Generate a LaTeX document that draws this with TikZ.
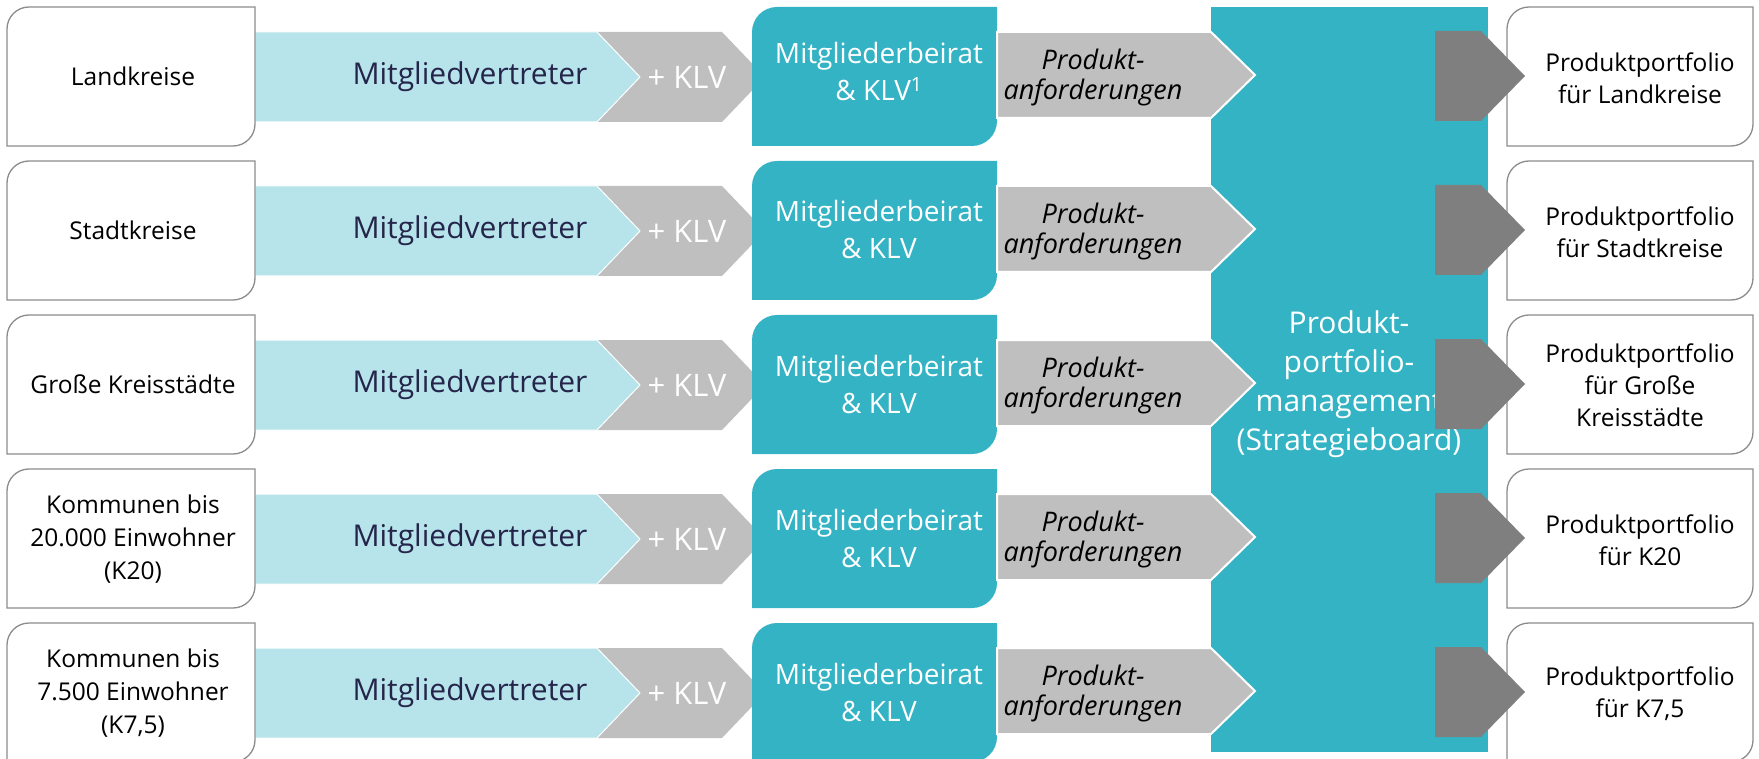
\documentclass[tikz,border=0pt]{standalone}
\usepackage{fontspec}
\setmainfont{Open Sans}
\definecolor{lcyan}{HTML}{B6E4EA}
\definecolor{teal1}{HTML}{34B3C4}
\definecolor{lgray}{HTML}{BFBFBF}
\definecolor{dgray}{HTML}{7F7F7F}
\definecolor{bgray}{HTML}{8C8C8C}
\definecolor{navy}{HTML}{25244A}
\tikzset{
  outbox/.style={draw=bgray, line width=1.3pt, fill=white},
  band/.style={fill=lcyan, draw=white, line width=1pt},
  chev/.style={fill=lgray},
  beirat/.style={fill=teal1},
  bigrect/.style={fill=teal1},
  reqarrow/.style={fill=lgray, draw=white, line width=2pt, line join=miter},
  outarrow/.style={fill=dgray},
  lefttext/.style={align=center, font=\fontsize{24.5}{33}\selectfont, text=black},
  mvtext/.style={font=\fontsize{30}{36}\selectfont, text=navy},
  klvtext/.style={font=\fontsize{31}{36}\selectfont, text=white},
  beirattext/.style={align=center, font=\fontsize{28}{37}\selectfont, text=white},
  reqtext/.style={align=center, font=\fontsize{27}{30}\selectfont\itshape, text=black},
  centertext/.style={align=center, font=\fontsize{30}{39}\selectfont, text=white},
  righttext/.style={align=center, font=\fontsize{24.5}{32}\selectfont, text=black},
}
% box with rounded top-left and bottom-right corners: style, x1, top, x2, bottom, radius
\newcommand{\dcbox}[6]{%
  \path[#1] (#2,#5) -- (#2,#3+#6) .. controls (#2,#3+0.4477*#6) and (#2+0.4477*#6,#3) .. (#2+#6,#3)
    -- (#4,#3) -- (#4,#5-#6) .. controls (#4,#5-0.4477*#6) and (#4-0.4477*#6,#5) .. (#4-#6,#5) -- cycle;}
\begin{document}
\begin{tikzpicture}[x=1pt,y=-1pt]
\useasboundingbox (0,0) rectangle (1759,759);
\clip (0,0) rectangle (1759,759);
% left part of each row
\foreach \i in {0,...,4}{
  \pgfmathsetmacro{\t}{7+154*\i}
  \pgfmathsetmacro{\b}{146+154*\i}
  \pgfmathsetmacro{\c}{76+154*\i}
  \pgfmathsetmacro{\bt}{\c+1-45}
  \pgfmathsetmacro{\bb}{\c+1+45}
  \pgfmathsetmacro{\bm}{\c+1}
  \path[chev] (560,\bt) -- (722,\bt) -- (765,\bm) -- (722,\bb) -- (560,\bb) -- cycle;
  \path[band] (255,\bt) -- (597,\bt) -- (640,\bm) -- (597,\bb) -- (255,\bb) -- cycle;
  \dcbox{outbox}{7}{\t}{255}{\b}{22}
  \dcbox{beirat}{752}{\t}{997}{\b}{25}
}
% central board
\path[bigrect] (1211,7) rectangle (1488,752);
\node[centertext] (ppm) at (1349,384) {Produkt-\\portfolio-\\management\\(Strategieboard)};
% requirement arrows and output arrows
\foreach \i in {0,...,4}{
  \pgfmathsetmacro{\c}{76+154*\i}
  \pgfmathsetmacro{\rt}{\c-1-43}
  \pgfmathsetmacro{\rb}{\c-1+43}
  \pgfmathsetmacro{\rm}{\c-1}
  \path[reqarrow] (997,\rt) -- (1211,\rt) -- (1255,\rm) -- (1211,\rb) -- (997,\rb) -- cycle;
  \pgfmathsetmacro{\t}{7+154*\i}
  \pgfmathsetmacro{\b}{146+154*\i}
  \dcbox{outbox}{1507}{\t}{1753}{\b}{22}
  \pgfmathsetmacro{\ot}{\c-45}
  \pgfmathsetmacro{\ob}{\c+45}
  \path[outarrow] (1435,\ot) -- (1481,\ot) -- (1525,\c) -- (1481,\ob) -- (1435,\ob) -- cycle;
}
% texts, row 1
\node[lefttext] (l1) at (133,76) {Landkreise};
\node[mvtext] (m1) at (470,77) {Mitgliedvertreter};
\node[klvtext] (k1) at (687,77) {+ KLV};
\node[beirattext] (b1) at (879,72) {Mitgliederbeirat\\\& KLV\textsuperscript{1}};
\node[reqtext] (r1) at (1093,77) {Produkt-\\anforderungen};
\node[righttext] (p1) at (1640,78) {Produktportfolio\\für Landkreise};
% row 2
\node[lefttext] (l2) at (133,230) {Stadtkreise};
\node[mvtext] (m2) at (470,231) {Mitgliedvertreter};
\node[klvtext] (k2) at (687,231) {+ KLV};
\node[beirattext] (b2) at (879,230) {Mitgliederbeirat\\\& KLV};
\node[reqtext] (r2) at (1093,231) {Produkt-\\anforderungen};
\node[righttext] (p2) at (1640,232) {Produktportfolio\\für Stadtkreise};
% row 3
\node[lefttext] (l3) at (133,384) {Große Kreisstädte};
\node[mvtext] (m3) at (470,385) {Mitgliedvertreter};
\node[klvtext] (k3) at (687,385) {+ KLV};
\node[beirattext] (b3) at (879,384) {Mitgliederbeirat\\\& KLV};
\node[reqtext] (r3) at (1093,385) {Produkt-\\anforderungen};
\node[righttext] (p3) at (1640,385) {Produktportfolio\\für Große\\Kreisstädte};
% row 4
\node[lefttext] (l4) at (133,539) {Kommunen bis\\20.000 Einwohner\\(K20)};
\node[mvtext] (m4) at (470,539) {Mitgliedvertreter};
\node[klvtext] (k4) at (687,539) {+ KLV};
\node[beirattext] (b4) at (879,538) {Mitgliederbeirat\\\& KLV};
\node[reqtext] (r4) at (1093,539) {Produkt-\\anforderungen};
\node[righttext] (p4) at (1640,540) {Produktportfolio\\für K20};
% row 5
\node[lefttext] (l5) at (133,693) {Kommunen bis\\7.500 Einwohner\\(K7,5)};
\node[mvtext] (m5) at (470,693) {Mitgliedvertreter};
\node[klvtext] (k5) at (687,693) {+ KLV};
\node[beirattext] (b5) at (879,692) {Mitgliederbeirat\\\& KLV};
\node[reqtext] (r5) at (1093,693) {Produkt-\\anforderungen};
\node[righttext] (p5) at (1640,694) {Produktportfolio\\für K7,5};
\end{tikzpicture}
\end{document}
